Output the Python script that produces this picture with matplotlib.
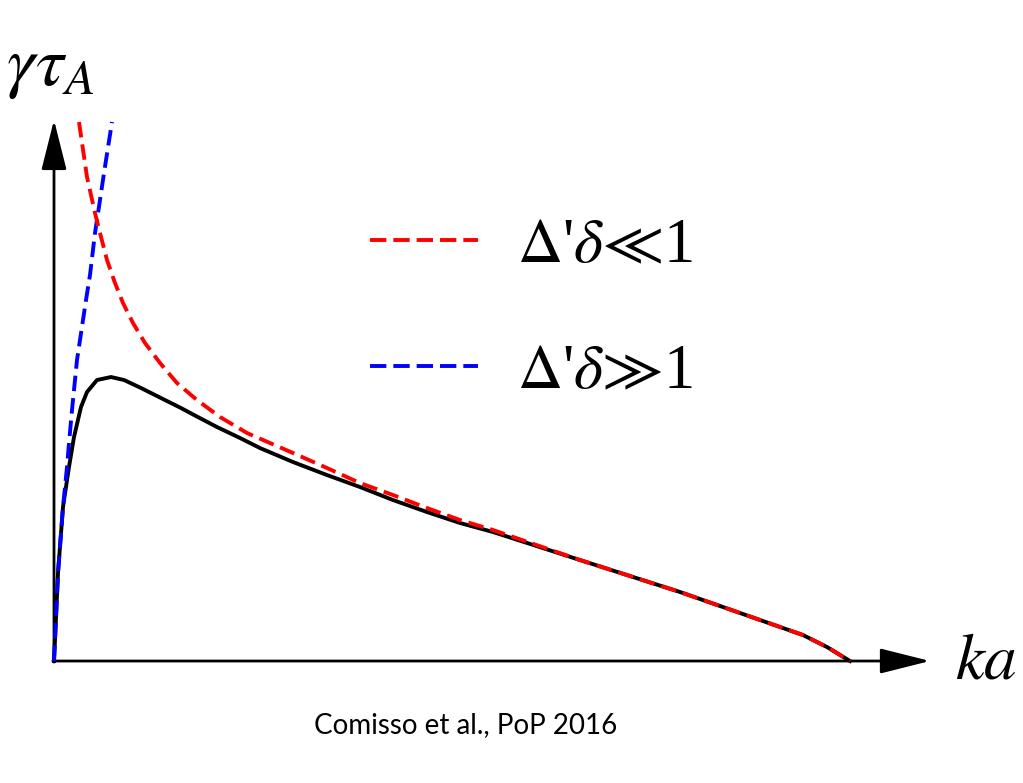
import matplotlib
matplotlib.use('Agg')
import matplotlib.pyplot as plt
from matplotlib.lines import Line2D

plt.rcParams['mathtext.fontset'] = 'stix'

# growth rate vs ka, arbitrary units (axis arrows end near 110 and 100)
ka_full = [0, 0.125, 0.5, 1.125, 1.875, 2.5, 3.375, 4.125, 5.375, 7.125, 8.75,
           10.875, 13.375, 15.875, 17.5, 20.375, 23.25, 25.75, 29.875, 34.125,
           38.25, 42.375, 46.625, 50.75, 54.875, 65.75, 78.25, 90.75, 93.625,
           96.625, 99.5]
gam_full = [0, 3.89, 16.30, 28.52, 35.93, 41.48, 47.04, 49.81, 52.04, 52.59, 52.04,
            50.56, 48.70, 46.85, 45.56, 43.33, 41.30, 39.44, 36.85, 34.44,
            32.22, 29.81, 27.59, 25.56, 23.89, 18.70, 12.78, 6.30, 4.81,
            2.59, 0]

# Delta' delta << 1 asymptote
ka_small = [3.125, 4.125, 5.125, 5.75, 6.625, 7.625, 8.625, 9.875, 11.375, 13.25,
            15.375, 17.875, 20.75, 24.125, 29.875, 34.125, 38.25, 42.375, 46.625,
            50.75, 54.875, 65.75, 78.25, 90.75, 93.625, 96.625, 99.5]
gam_small = [99.81, 89.63, 82.96, 79.26, 74.26, 70.0, 66.30, 62.59, 58.89, 55.19,
             51.48, 48.33, 45.19, 42.22, 38.52, 35.74, 32.96, 30.74, 28.33,
             26.11, 24.26, 18.70, 12.78, 6.30, 4.81, 2.59, 0]

# Delta' delta >> 1 asymptote
ka_large = [0, 0.125, 0.5, 1.125, 1.625, 1.875, 2.25, 2.875, 4.0, 4.5, 5.125,
            5.75, 6.25, 7.25]
gam_large = [0, 3.89, 16.30, 28.52, 35.93, 40.37, 46.48, 55.74, 66.85, 71.48, 79.26,
             85.37, 90.37, 99.81]

labels = [r"$\Delta$'$\delta\!\ll\!$1", r"$\Delta$'$\delta\!\gg\!$1"]

fig = plt.figure(figsize=(10.23, 7.83), dpi=100)
ax = fig.add_axes([0, 0, 1, 1])
ax.set_xlim(-6.75, 121.125)
ax.set_ylim(-22.59, 122.41)
ax.axis('off')

lw = 2.8
dash = (0, (4.0, 1.8))
ax.plot(ka_full, gam_full, color='black', lw=lw, solid_joinstyle='round', zorder=3)
ax.plot(ka_large, gam_large, color='#0000ff', lw=lw, ls=dash, zorder=4)
ax.plot(ka_small, gam_small, color='#ff0000', lw=lw, ls=dash, zorder=5)

# axes with arrow heads
arrow = dict(arrowstyle='-|>,head_length=31,head_width=7.8', mutation_scale=1,
             lw=2.0, color='black', shrinkA=0, shrinkB=0)
ax.annotate('', xy=(109.5, 0), xytext=(-0.15, 0), arrowprops=arrow, zorder=2)
ax.annotate('', xy=(0, 100.2), xytext=(0, -0.2), arrowprops=arrow, zorder=2)

ax.text(0.006, 0.8914, r'$\gamma\tau_A$', transform=ax.transAxes,
        fontsize=51, va='baseline', ha='left')
ax.text(0.934, 0.134, r'$ka$', transform=ax.transAxes,
        fontsize=47, va='baseline', ha='left')

# legend
for y_line, y_txt, col, lab in [(0.6935, 0.6654, '#ff0000', labels[0]),
                                (0.5326, 0.5045, '#0000ff', labels[1])]:
    ax.add_line(Line2D([0.3617, 0.4673], [y_line, y_line], transform=ax.transAxes,
                       color=col, lw=lw, ls=(0, (4.2, 1.8))))
    ax.text(0.505, y_txt, lab, transform=ax.transAxes, fontsize=45,
            family='Liberation Serif', va='baseline', ha='left')

ax.text(0.4555, 0.064, 'Comisso et al., PoP 2016', transform=ax.transAxes,
        fontsize=20, family='Lato', va='baseline', ha='center')

fig.savefig('out.png', dpi=100)
